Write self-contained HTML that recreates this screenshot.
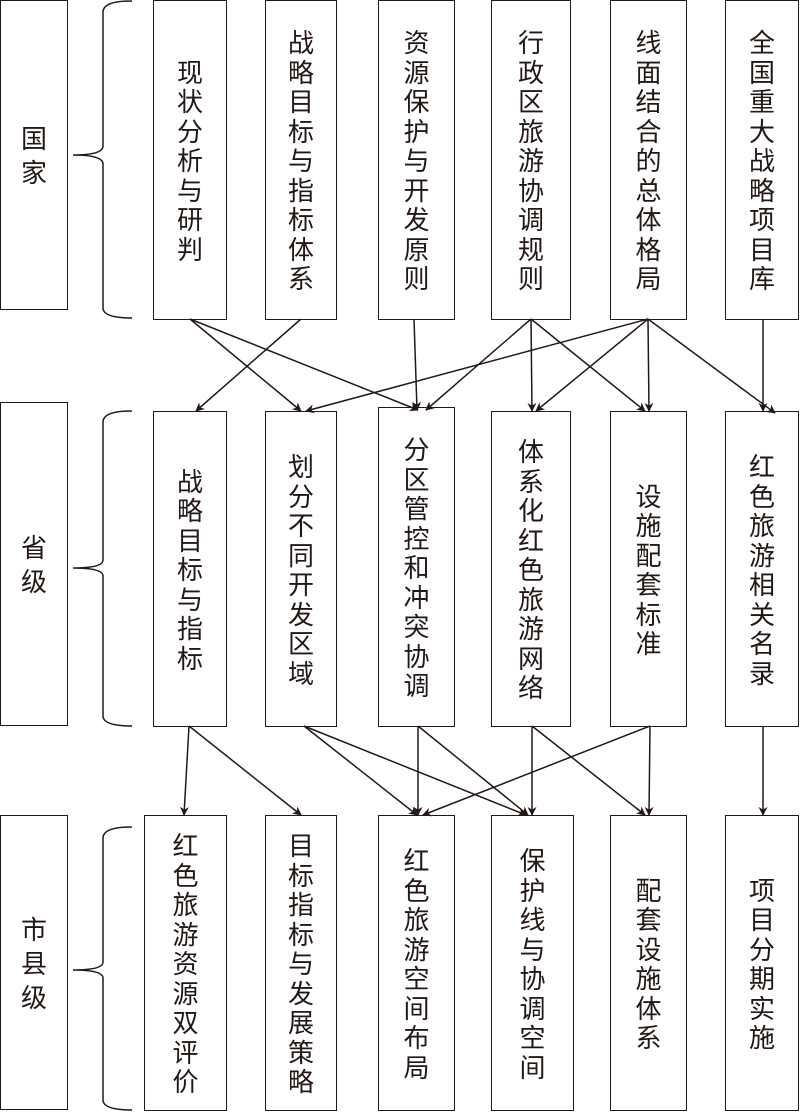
<!DOCTYPE html>
<html><head><meta charset="utf-8"><style>
body{margin:0;width:800px;height:1115px;background:#fff;position:relative;overflow:hidden;font-family:"Noto Sans CJK SC",sans-serif;}
.b{position:absolute;border:1.5px solid #231815;box-sizing:border-box;display:flex;align-items:center;justify-content:center;}
.t{display:flex;flex-direction:column;align-items:center;color:#231815;}
.t span{display:block;height:29.5px;line-height:29.5px;font-size:26px;width:30px;text-align:center;overflow:visible;}
.L span{height:34px;line-height:34px;}
svg{position:absolute;left:0;top:0;}
</style></head><body>
<svg width="800" height="1115" viewBox="0 0 800 1115">
<defs><marker id="a" viewBox="0 0 10 10" refX="9" refY="5" markerWidth="9" markerHeight="9" orient="auto" markerUnits="userSpaceOnUse"><path d="M0,0 L10,5 L0,10 L3,5 z" fill="#231815"/></marker></defs>
<g fill="none" stroke="#231815" stroke-width="1.5">
<path d="M132,1 Q103,1 103,12 L103,146 Q103,155 73,155 Q103,155 103,164 L103,308 Q103,318 132,318"/>
<path d="M132,411 Q103,411 103,422 L103,560 Q103,568 73,568 Q103,568 103,576 L103,716 Q103,726 132,726"/>
<path d="M132,827 Q103,827 103,838 L103,962 Q103,970 73,970 Q103,970 103,978 L103,1100 Q103,1110 132,1110"/>
</g>
<g stroke="#231815" stroke-width="1.5" marker-end="url(#a)">
<line x1="190" y1="319" x2="301" y2="411"/>
<line x1="190" y1="319" x2="418" y2="410"/>
<line x1="301" y1="319" x2="196" y2="411"/>
<line x1="414" y1="319" x2="417" y2="410"/>
<line x1="531" y1="319" x2="426" y2="410"/>
<line x1="531" y1="319" x2="532" y2="411"/>
<line x1="531" y1="319" x2="645" y2="411"/>
<line x1="648" y1="319" x2="306" y2="411"/>
<line x1="648" y1="319" x2="536" y2="411"/>
<line x1="648" y1="319" x2="649" y2="411"/>
<line x1="648" y1="319" x2="775" y2="413"/>
<line x1="763" y1="319" x2="763" y2="411"/>
<line x1="189" y1="726" x2="184" y2="815"/>
<line x1="189" y1="726" x2="301" y2="815"/>
<line x1="304" y1="726" x2="417" y2="815"/>
<line x1="304" y1="726" x2="526" y2="815"/>
<line x1="418" y1="726" x2="418" y2="815"/>
<line x1="418" y1="726" x2="528" y2="815"/>
<line x1="532" y1="726" x2="532" y2="815"/>
<line x1="532" y1="726" x2="645" y2="815"/>
<line x1="650" y1="726" x2="423" y2="815"/>
<line x1="650" y1="726" x2="649" y2="815"/>
<line x1="763" y1="726" x2="763" y2="815"/>
</g>
</svg>
<div class="b" style="left:0;top:0;width:68px;height:310px"><div class="t L"><span>国</span><span>家</span></div></div>
<div class="b" style="left:0;top:402px;width:68px;height:324px"><div class="t L"><span>省</span><span>级</span></div></div>
<div class="b" style="left:0;top:815px;width:68px;height:295px"><div class="t L"><span>市</span><span>县</span><span>级</span></div></div>

<div class="b" style="left:153px;top:0;width:74px;height:320px"><div class="t"><span>现</span><span>状</span><span>分</span><span>析</span><span>与</span><span>研</span><span>判</span></div></div>
<div class="b" style="left:265px;top:0;width:72px;height:320px"><div class="t"><span>战</span><span>略</span><span>目</span><span>标</span><span>与</span><span>指</span><span>标</span><span>体</span><span>系</span></div></div>
<div class="b" style="left:378px;top:0;width:77px;height:320px"><div class="t"><span>资</span><span>源</span><span>保</span><span>护</span><span>与</span><span>开</span><span>发</span><span>原</span><span>则</span></div></div>
<div class="b" style="left:491px;top:0;width:80px;height:320px"><div class="t"><span>行</span><span>政</span><span>区</span><span>旅</span><span>游</span><span>协</span><span>调</span><span>规</span><span>则</span></div></div>
<div class="b" style="left:610px;top:0;width:77px;height:320px"><div class="t"><span>线</span><span>面</span><span>结</span><span>合</span><span>的</span><span>总</span><span>体</span><span>格</span><span>局</span></div></div>
<div class="b" style="left:725px;top:0;width:74px;height:320px"><div class="t"><span>全</span><span>国</span><span>重</span><span>大</span><span>战</span><span>略</span><span>项</span><span>目</span><span>库</span></div></div>

<div class="b" style="left:153px;top:411px;width:74px;height:316px"><div class="t"><span>战</span><span>略</span><span>目</span><span>标</span><span>与</span><span>指</span><span>标</span></div></div>
<div class="b" style="left:265px;top:411px;width:72px;height:316px"><div class="t"><span>划</span><span>分</span><span>不</span><span>同</span><span>开</span><span>发</span><span>区</span><span>域</span></div></div>
<div class="b" style="left:378px;top:407px;width:77px;height:320px"><div class="t"><span>分</span><span>区</span><span>管</span><span>控</span><span>和</span><span>冲</span><span>突</span><span>协</span><span>调</span></div></div>
<div class="b" style="left:491px;top:411px;width:80px;height:316px"><div class="t"><span>体</span><span>系</span><span>化</span><span>红</span><span>色</span><span>旅</span><span>游</span><span>网</span><span>络</span></div></div>
<div class="b" style="left:610px;top:411px;width:77px;height:316px"><div class="t"><span>设</span><span>施</span><span>配</span><span>套</span><span>标</span><span>准</span></div></div>
<div class="b" style="left:725px;top:411px;width:74px;height:316px"><div class="t"><span>红</span><span>色</span><span>旅</span><span>游</span><span>相</span><span>关</span><span>名</span><span>录</span></div></div>

<div class="b" style="left:144px;top:815px;width:83px;height:296px"><div class="t"><span>红</span><span>色</span><span>旅</span><span>游</span><span>资</span><span>源</span><span>双</span><span>评</span><span>价</span></div></div>
<div class="b" style="left:265px;top:815px;width:72px;height:296px"><div class="t"><span>目</span><span>标</span><span>指</span><span>标</span><span>与</span><span>发</span><span>展</span><span>策</span><span>略</span></div></div>
<div class="b" style="left:378px;top:815px;width:77px;height:296px"><div class="t"><span>红</span><span>色</span><span>旅</span><span>游</span><span>空</span><span>间</span><span>布</span><span>局</span></div></div>
<div class="b" style="left:491px;top:815px;width:83px;height:296px"><div class="t"><span>保</span><span>护</span><span>线</span><span>与</span><span>协</span><span>调</span><span>空</span><span>间</span></div></div>
<div class="b" style="left:610px;top:815px;width:77px;height:296px"><div class="t"><span>配</span><span>套</span><span>设</span><span>施</span><span>体</span><span>系</span></div></div>
<div class="b" style="left:725px;top:815px;width:74px;height:296px"><div class="t"><span>项</span><span>目</span><span>分</span><span>期</span><span>实</span><span>施</span></div></div>
</body></html>
